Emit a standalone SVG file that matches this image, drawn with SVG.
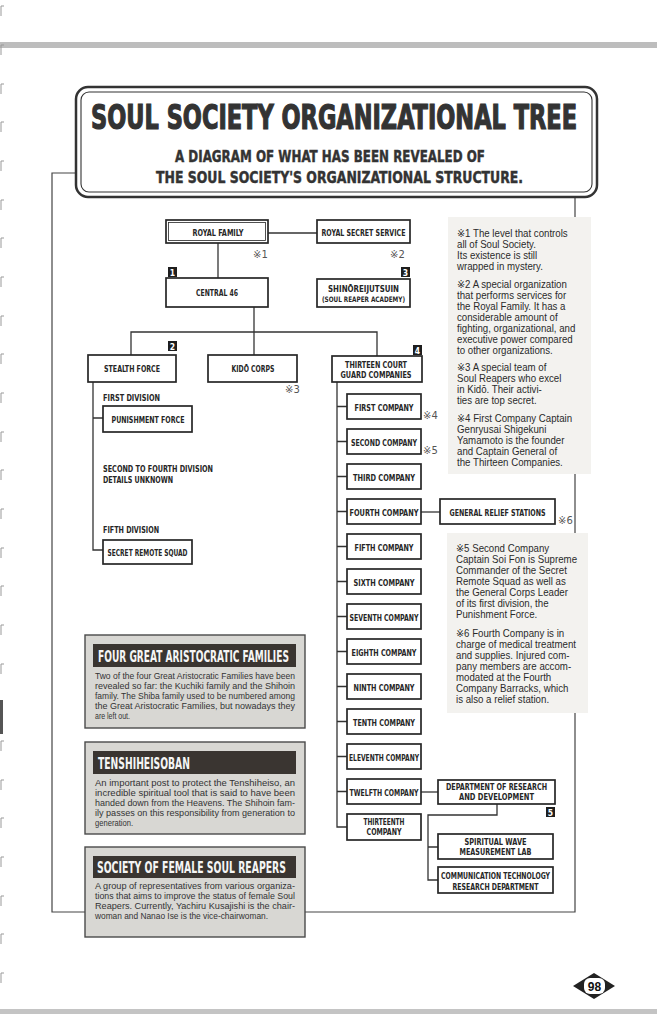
<svg xmlns="http://www.w3.org/2000/svg" width="657" height="1024" viewBox="0 0 657 1024">
<defs>
<style>
.bx{fill:#fff;stroke:#262626;stroke-width:1.7}
.lbl{font-family:"DejaVu Sans Condensed","DejaVu Sans",sans-serif;font-weight:bold;font-size:9.5px;fill:#262626;text-anchor:middle}
.sm{font-size:7.5px}
.cn{fill:none;stroke:#333;stroke-width:1.3}
.fr{fill:none;stroke:#444;stroke-width:1.2}
.mk{font-family:"DejaVu Sans","Liberation Sans",sans-serif;font-size:10px;fill:#555}
.bd{fill:#1e1e1e}
.bdt{font-family:"DejaVu Sans Condensed","DejaVu Sans",sans-serif;font-weight:bold;font-size:8.5px;fill:#fff;text-anchor:middle}
.note{font-family:"Liberation Sans",Arial,"DejaVu Sans",sans-serif;font-size:11px;fill:#2a2a2a}
.panel{fill:#f3f2ef}
.gbox{fill:#d8d7d3;stroke:#4a4a4a;stroke-width:1.4}
.hbar{fill:#3a3531}
.htxt{font-family:"DejaVu Sans Condensed","DejaVu Sans",sans-serif;font-weight:bold;font-size:15px;fill:#f5f5f5}
.body{font-family:"Liberation Sans",Arial,sans-serif;font-size:9.5px;fill:#333}
.div{font-family:"DejaVu Sans Condensed","DejaVu Sans",sans-serif;font-weight:bold;font-size:9.5px;fill:#262626}
.ttl{font-family:"DejaVu Sans Condensed","DejaVu Sans",sans-serif;font-weight:bold;fill:#333;stroke:#333}
</style>
</defs>
<rect x="0" y="0" width="657" height="1024" fill="#fff"/>
<!-- page decorations -->
<rect x="0" y="42" width="657" height="6" fill="#bdbdbd"/>
<rect x="0" y="1009" width="657" height="5" fill="#c4c4c4"/>
<path d="M4,6 h-3 v10 M4,45 h-3 v10 M4,84 h-3 v10 M4,122 h-3 v10 M4,161 h-3 v10 M4,200 h-3 v10 M4,238 h-3 v10 M4,277 h-3 v10 M4,316 h-3 v10 M4,354 h-3 v10 M4,393 h-3 v10 M4,432 h-3 v10 M4,470 h-3 v10 M4,509 h-3 v10 M4,548 h-3 v10 M4,586 h-3 v10 M4,625 h-3 v10 M4,664 h-3 v10 M4,741 h-3 v10 M4,780 h-3 v10 M4,818 h-3 v10 M4,857 h-3 v10 M4,896 h-3 v10 M4,934 h-3 v10 M4,973 h-3 v10" fill="none" stroke="#999" stroke-width="1"/>
<rect x="0" y="700" width="3" height="34" fill="#555"/>

<!-- frame -->
<path class="fr" d="M76,173 H52 V912 H575 V197"/>

<!-- note panels -->
<rect class="panel" x="448" y="217" width="143" height="257"/>
<rect class="panel" x="447" y="533" width="141" height="180"/>

<g id="title">
<rect x="76" y="87" width="521" height="110" rx="12" fill="#fff" stroke="#333" stroke-width="2.5"/>
<rect x="81" y="92" width="511" height="100" rx="8" fill="none" stroke="#333" stroke-width="1.1"/>
<text class="ttl" transform="translate(91 129) scale(0.65 1)" font-size="34" stroke-width="1.2" textLength="747.7" lengthAdjust="spacingAndGlyphs">SOUL SOCIETY ORGANIZATIONAL TREE</text>
<text class="ttl" transform="translate(175 162) scale(0.9 1)" font-size="15" stroke-width="0.4" textLength="344.4" lengthAdjust="spacingAndGlyphs">A DIAGRAM OF WHAT HAS BEEN REVEALED OF</text>
<text class="ttl" transform="translate(156 183) scale(0.9 1)" font-size="15" stroke-width="0.4" textLength="407.8" lengthAdjust="spacingAndGlyphs">THE SOUL SOCIETY'S ORGANIZATIONAL STRUCTURE.</text>
</g>

<g id="connectors">
<path class="cn" d="M268,233 H317"/>
<path class="cn" d="M218,243 V278"/>
<path class="cn" d="M254,307 V355"/>
<path class="cn" d="M131,355 V332 H377 V356"/>
<path class="cn" d="M93,382 V550 H103 M93,418 H103"/>
<path class="cn" d="M337,382 V827 H347 M337,406.5 H347 M337,441.5 H347 M337,476.5 H347 M337,511.5 H347 M337,546.5 H347 M337,581.5 H347 M337,616.5 H347 M337,651.5 H347 M337,686.5 H347 M337,721.5 H347 M337,756.5 H347 M337,791.5 H347"/>
<path class="cn" d="M421,512 H440"/>
<path class="cn" d="M421,792 H438"/>
<path class="cn" d="M497,804 V815 H428 V880 H438 M428,847 H438"/>
</g>

<g id="n-royal-family">
<rect class="bx" x="166" y="220" width="102" height="23"/>
<rect x="168.5" y="222.5" width="97" height="18" fill="none" stroke="#262626" stroke-width="0.8"/>
<text class="lbl" transform="translate(218 236) scale(0.75 1)" textLength="68" lengthAdjust="spacingAndGlyphs">ROYAL FAMILY</text>
<text class="mk" x="253" y="258">※1</text>
</g>
<g id="n-royal-secret-service">
<rect class="bx" x="317" y="220" width="93" height="23"/>
<text class="lbl" transform="translate(363.5 235.5) scale(0.75 1)" textLength="112" lengthAdjust="spacingAndGlyphs">ROYAL SECRET SERVICE</text>
<text class="mk" x="390" y="258">※2</text>
</g>
<g id="n-central-46">
<rect class="bd" x="168" y="267" width="9" height="10"/>
<text class="bdt" x="172.5" y="275.5">1</text>
<rect class="bx" x="166" y="278" width="102" height="29"/>
<text class="lbl" transform="translate(217 296) scale(0.75 1)" textLength="56" lengthAdjust="spacingAndGlyphs">CENTRAL 46</text>
</g>
<g id="n-shinoreijutsuin">
<rect class="bd" x="401" y="267" width="9" height="10"/>
<text class="bdt" x="405.5" y="275.5">3</text>
<rect class="bx" x="317" y="279" width="93" height="28"/>
<text class="lbl" transform="translate(363.5 292) scale(0.75 1)" textLength="94.7" lengthAdjust="spacingAndGlyphs">SHINŌREIJUTSUIN</text>
<text class="lbl sm" transform="translate(363.5 302) scale(0.75 1)" textLength="110.7" lengthAdjust="spacingAndGlyphs">(SOUL REAPER ACADEMY)</text>
</g>
<g id="n-stealth-force">
<rect class="bd" x="168" y="341" width="9" height="10"/>
<text class="bdt" x="172.5" y="349.5">2</text>
<rect class="bx" x="88" y="355" width="88" height="27"/>
<text class="lbl" transform="translate(132 372) scale(0.75 1)" textLength="74.7" lengthAdjust="spacingAndGlyphs">STEALTH FORCE</text>
</g>
<g id="n-kido-corps">
<rect class="bx" x="208" y="355" width="89" height="27"/>
<text class="lbl" transform="translate(253 372) scale(0.75 1)" textLength="57.3" lengthAdjust="spacingAndGlyphs">KIDŌ CORPS</text>
<text class="mk" x="285" y="393">※3</text>
</g>
<g id="n-divisions">
<text class="div" transform="translate(103 401) scale(0.75 1)" textLength="76" lengthAdjust="spacingAndGlyphs">FIRST DIVISION</text>
<text class="div" transform="translate(103 472) scale(0.75 1)" textLength="146.7" lengthAdjust="spacingAndGlyphs">SECOND TO FOURTH DIVISION</text>
<text class="div" transform="translate(103 483) scale(0.75 1)" textLength="93.3" lengthAdjust="spacingAndGlyphs">DETAILS UNKNOWN</text>
<text class="div" transform="translate(103 533) scale(0.75 1)" textLength="74.7" lengthAdjust="spacingAndGlyphs">FIFTH DIVISION</text>
</g>
<g id="n-punishment-force">
<rect class="bx" x="103" y="406" width="89" height="26"/>
<text class="lbl" transform="translate(148 422.5) scale(0.75 1)" textLength="97.3" lengthAdjust="spacingAndGlyphs">PUNISHMENT FORCE</text>
</g>
<g id="n-secret-remote-squad">
<rect class="bx" x="103" y="540" width="89" height="24"/>
<text class="lbl" transform="translate(147.5 555.5) scale(0.75 1)" textLength="106.7" lengthAdjust="spacingAndGlyphs">SECRET REMOTE SQUAD</text>
</g>
<g id="n-thirteen-court">
<rect class="bd" x="413" y="345" width="9" height="10"/>
<text class="bdt" x="417.5" y="353.5">4</text>
<rect class="bx" x="332" y="356" width="90" height="26"/>
<text class="lbl" transform="translate(376 367.5) scale(0.75 1)" textLength="82.7" lengthAdjust="spacingAndGlyphs">THIRTEEN COURT</text>
<text class="lbl" transform="translate(376 378) scale(0.75 1)" textLength="94.7" lengthAdjust="spacingAndGlyphs">GUARD COMPANIES</text>
</g>
<g id="n-first-company"><rect class="bx" x="347" y="394" width="74" height="25"/><text class="lbl" transform="translate(384 410.5) scale(0.75 1)" textLength="78.7" lengthAdjust="spacingAndGlyphs">FIRST COMPANY</text><text class="mk" x="423" y="419">※4</text></g>
<g id="n-second-company"><rect class="bx" x="347" y="429" width="74" height="25"/><text class="lbl" transform="translate(384 445.5) scale(0.75 1)" textLength="88" lengthAdjust="spacingAndGlyphs">SECOND COMPANY</text><text class="mk" x="423" y="454">※5</text></g>
<g id="n-third-company"><rect class="bx" x="347" y="464" width="74" height="25"/><text class="lbl" transform="translate(384 480.5) scale(0.75 1)" textLength="82.7" lengthAdjust="spacingAndGlyphs">THIRD COMPANY</text></g>
<g id="n-fourth-company"><rect class="bx" x="347" y="499" width="74" height="25"/><text class="lbl" transform="translate(384 515.5) scale(0.75 1)" textLength="92" lengthAdjust="spacingAndGlyphs">FOURTH COMPANY</text></g>
<g id="n-fifth-company"><rect class="bx" x="347" y="534" width="74" height="25"/><text class="lbl" transform="translate(384 550.5) scale(0.75 1)" textLength="78.7" lengthAdjust="spacingAndGlyphs">FIFTH COMPANY</text></g>
<g id="n-sixth-company"><rect class="bx" x="347" y="569" width="74" height="25"/><text class="lbl" transform="translate(384 585.5) scale(0.75 1)" textLength="81.3" lengthAdjust="spacingAndGlyphs">SIXTH COMPANY</text></g>
<g id="n-seventh-company"><rect class="bx" x="347" y="604" width="74" height="25"/><text class="lbl" transform="translate(384 620.5) scale(0.75 1)" textLength="92" lengthAdjust="spacingAndGlyphs">SEVENTH COMPANY</text></g>
<g id="n-eighth-company"><rect class="bx" x="347" y="639" width="74" height="25"/><text class="lbl" transform="translate(384 655.5) scale(0.75 1)" textLength="86.7" lengthAdjust="spacingAndGlyphs">EIGHTH COMPANY</text></g>
<g id="n-ninth-company"><rect class="bx" x="347" y="674" width="74" height="25"/><text class="lbl" transform="translate(384 690.5) scale(0.75 1)" textLength="81.3" lengthAdjust="spacingAndGlyphs">NINTH COMPANY</text></g>
<g id="n-tenth-company"><rect class="bx" x="347" y="709" width="74" height="25"/><text class="lbl" transform="translate(384 725.5) scale(0.75 1)" textLength="82.7" lengthAdjust="spacingAndGlyphs">TENTH COMPANY</text></g>
<g id="n-eleventh-company"><rect class="bx" x="347" y="744" width="74" height="25"/><text class="lbl" transform="translate(384 760.5) scale(0.75 1)" textLength="93.3" lengthAdjust="spacingAndGlyphs">ELEVENTH COMPANY</text></g>
<g id="n-twelfth-company"><rect class="bx" x="347" y="779" width="74" height="25"/><text class="lbl" transform="translate(384 795.5) scale(0.75 1)" textLength="92" lengthAdjust="spacingAndGlyphs">TWELFTH COMPANY</text></g>
<g id="n-thirteenth-company"><rect class="bx" x="347" y="814" width="74" height="26"/><text class="lbl" transform="translate(384 825) scale(0.75 1)" textLength="54.7" lengthAdjust="spacingAndGlyphs">THIRTEENTH</text><text class="lbl" transform="translate(384 835) scale(0.75 1)" textLength="46.7" lengthAdjust="spacingAndGlyphs">COMPANY</text></g>

<g id="n-general-relief-stations">
<rect class="bx" x="440" y="499" width="115" height="25"/>
<text class="lbl" transform="translate(497.5 515.5) scale(0.75 1)" textLength="128" lengthAdjust="spacingAndGlyphs">GENERAL RELIEF STATIONS</text>
<text class="mk" x="558" y="524">※6</text>
</g>
<g id="n-research-development">
<rect class="bx" x="438" y="780" width="117" height="24"/>
<text class="lbl" transform="translate(496.5 789.5) scale(0.75 1)" textLength="134.7" lengthAdjust="spacingAndGlyphs">DEPARTMENT OF RESEARCH</text>
<text class="lbl" transform="translate(496.5 800) scale(0.75 1)" textLength="100" lengthAdjust="spacingAndGlyphs">AND DEVELOPMENT</text>
<rect class="bd" x="546" y="807" width="9" height="10"/>
<text class="bdt" x="550.5" y="815.5">5</text>
</g>
<g id="n-spiritual-wave-lab">
<rect class="bx" x="438" y="834" width="115" height="25"/>
<text class="lbl" transform="translate(495.5 844.5) scale(0.75 1)" textLength="82.7" lengthAdjust="spacingAndGlyphs">SPIRITUAL WAVE</text>
<text class="lbl" transform="translate(495.5 855) scale(0.75 1)" textLength="96" lengthAdjust="spacingAndGlyphs">MEASUREMENT LAB</text>
</g>
<g id="n-communication-tech">
<rect class="bx" x="438" y="867" width="115" height="26"/>
<text class="lbl" transform="translate(495.5 878.5) scale(0.75 1)" textLength="145.3" lengthAdjust="spacingAndGlyphs">COMMUNICATION TECHNOLOGY</text>
<text class="lbl" transform="translate(495.5 889.5) scale(0.75 1)" textLength="114.7" lengthAdjust="spacingAndGlyphs">RESEARCH DEPARTMENT</text>
</g>

<g id="notes-1" class="note" transform="translate(457 0) scale(0.88 1)">
<text x="0" y="237">※1 The level that controls</text>
<text x="0" y="248">all of Soul Society.</text>
<text x="0" y="259">Its existence is still</text>
<text x="0" y="270">wrapped in mystery.</text>
<text x="0" y="288">※2 A special organization</text>
<text x="0" y="299">that performs services for</text>
<text x="0" y="310">the Royal Family. It has a</text>
<text x="0" y="321">considerable amount of</text>
<text x="0" y="332">fighting, organizational, and</text>
<text x="0" y="343">executive power compared</text>
<text x="0" y="354">to other organizations.</text>
<text x="0" y="371">※3 A special team of</text>
<text x="0" y="382">Soul Reapers who excel</text>
<text x="0" y="393">in Kidō. Their activi-</text>
<text x="0" y="404">ties are top secret.</text>
<text x="0" y="422">※4 First Company Captain</text>
<text x="0" y="433">Genryusai Shigekuni</text>
<text x="0" y="444">Yamamoto is the founder</text>
<text x="0" y="455">and Captain General of</text>
<text x="0" y="466">the Thirteen Companies.</text>
</g>
<g id="notes-2" class="note" transform="translate(456 0) scale(0.88 1)">
<text x="0" y="552">※5 Second Company</text>
<text x="0" y="563">Captain Soi Fon is Supreme</text>
<text x="0" y="574">Commander of the Secret</text>
<text x="0" y="585">Remote Squad as well as</text>
<text x="0" y="596">the General Corps Leader</text>
<text x="0" y="607">of its first division, the</text>
<text x="0" y="618">Punishment Force.</text>
<text x="0" y="637">※6 Fourth Company is in</text>
<text x="0" y="648">charge of medical treatment</text>
<text x="0" y="659">and supplies. Injured com-</text>
<text x="0" y="670">pany members are accom-</text>
<text x="0" y="681">modated at the Fourth</text>
<text x="0" y="692">Company Barracks, which</text>
<text x="0" y="703">is also a relief station.</text>
</g>

<g id="box-four-great">
<rect class="gbox" x="85" y="635" width="220" height="93"/>
<rect class="hbar" x="93" y="644" width="203" height="23"/>
<text class="htxt" transform="translate(98 662) scale(0.67 1)" textLength="285" lengthAdjust="spacingAndGlyphs">FOUR GREAT ARISTOCRATIC FAMILIES</text>
<text class="body" x="95" y="679" textLength="200" lengthAdjust="spacingAndGlyphs">Two of the four Great Aristocratic Families have been</text>
<text class="body" x="95" y="689" textLength="200" lengthAdjust="spacingAndGlyphs">revealed so far: the Kuchiki family and the Shihoin</text>
<text class="body" x="95" y="699" textLength="200" lengthAdjust="spacingAndGlyphs">family. The Shiba family used to be numbered among</text>
<text class="body" x="95" y="709" textLength="200" lengthAdjust="spacingAndGlyphs">the Great Aristocratic Families, but nowadays they</text>
<text class="body" x="95" y="719" textLength="35" lengthAdjust="spacingAndGlyphs">are left out.</text>
</g>
<g id="box-tenshiheisoban">
<rect class="gbox" x="85" y="742" width="220" height="92"/>
<rect class="hbar" x="93" y="751" width="203" height="23"/>
<text class="htxt" transform="translate(98 769) scale(0.67 1)" textLength="137.3" lengthAdjust="spacingAndGlyphs">TENSHIHEISOBAN</text>
<text class="body" x="95" y="786" textLength="200" lengthAdjust="spacingAndGlyphs">An important post to protect the Tenshiheiso, an</text>
<text class="body" x="95" y="796" textLength="200" lengthAdjust="spacingAndGlyphs">incredible spiritual tool that is said to have been</text>
<text class="body" x="95" y="806" textLength="200" lengthAdjust="spacingAndGlyphs">handed down from the Heavens. The Shihoin fam-</text>
<text class="body" x="95" y="816" textLength="200" lengthAdjust="spacingAndGlyphs">ily passes on this responsibility from generation to</text>
<text class="body" x="95" y="826" textLength="38" lengthAdjust="spacingAndGlyphs">generation.</text>
</g>
<g id="box-female-soul-reapers">
<rect class="gbox" x="85" y="847" width="220" height="90"/>
<rect class="hbar" x="93" y="856" width="203" height="22"/>
<text class="htxt" transform="translate(97 873) scale(0.67 1)" textLength="282" lengthAdjust="spacingAndGlyphs">SOCIETY OF FEMALE SOUL REAPERS</text>
<text class="body" x="95" y="889" textLength="200" lengthAdjust="spacingAndGlyphs">A group of representatives from various organiza-</text>
<text class="body" x="95" y="899" textLength="200" lengthAdjust="spacingAndGlyphs">tions that aims to improve the status of female Soul</text>
<text class="body" x="95" y="909" textLength="200" lengthAdjust="spacingAndGlyphs">Reapers. Currently, Yachiru Kusajishi is the chair-</text>
<text class="body" x="95" y="919" textLength="173" lengthAdjust="spacingAndGlyphs">woman and Nanao Ise is the vice-chairwoman.</text>
</g>

<g id="page-number">
<path d="M573,986 L594,973 L615,986 L594,999 Z" fill="#222"/>
<rect x="584" y="978" width="21" height="16" rx="6" fill="#fff"/>
<text x="594.5" y="990.5" text-anchor="middle" font-family="Liberation Sans, Arial, sans-serif" font-weight="bold" font-size="12" fill="#111">98</text>
</g>
</svg>
